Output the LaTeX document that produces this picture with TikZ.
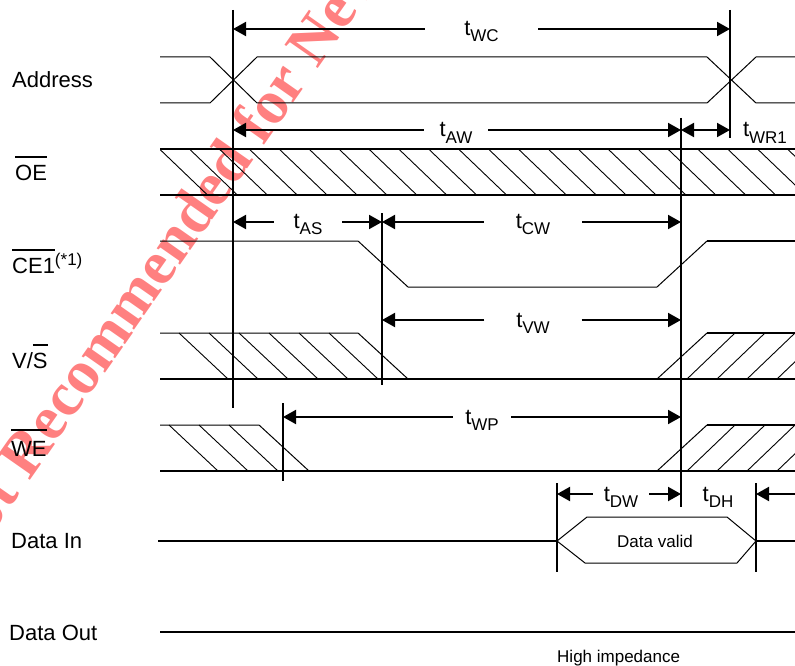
\documentclass[tikz,border=0pt]{standalone}
\usepackage{fontspec}
\setmainfont{Liberation Sans}
\newfontfamily\wmfont{Liberation Serif}
\usetikzlibrary{arrows.meta}
\definecolor{wmred}{RGB}{255,128,128}
\newcommand\ovl[2][7pt]{\vbox{\hrule height 1.6pt\kern#1\hbox{#2}}}
\newcommand\tlab[1]{\rule{0pt}{20pt}\fontsize{22}{24}\selectfont t\raisebox{-6pt}{\fontsize{17}{18}\selectfont #1}}
\begin{document}
\begin{tikzpicture}[x=1pt,y=-1pt,
  thinsig/.style={line width=1pt},
  boldsig/.style={line width=2pt},
  hatchln/.style={line width=0.9pt},
  vline/.style={line width=2pt},
  dimr/.style={line width=2pt,-{Triangle[length=13pt,width=14pt]}},
  gap/.style={inner sep=0pt,minimum height=10pt},
  sig/.style={anchor=base west,inner sep=0pt,font=\fontsize{22}{24}\selectfont},
  small/.style={inner sep=0pt,font=\fontsize{17}{19}\selectfont}]
\useasboundingbox (0,0) rectangle (795,666);
% watermark
\node[rotate=55,anchor=base west,inner sep=0pt,text=wmred,
  font=\wmfont\bfseries\fontsize{62}{62}\selectfont] (wm) at (-35,573)
  {Not Recommended for New Design};
% x-positions of the timing edges
\coordinate (xa) at (233,0);
\coordinate (xb) at (730,0);
\coordinate (xc) at (681,0);
\coordinate (xd) at (382,0);
\coordinate (xe) at (283,0);
\coordinate (xf) at (557,0);
\coordinate (xg) at (756,0);
\coordinate (xr) at (795,0);
% signal names
\node[sig] (nAddr) at (12,88) {Address};
\node[sig] (nOE) at (15,180) {\ovl{OE}};
\node[sig] (nCE) at (12,273) {\ovl{CE1}\raisebox{8pt}{\fontsize{17}{18}\selectfont(*1)}};
\node[sig] (nVS) at (12,368) {V/\ovl{S}};
\node[sig] (nWE) at (11,456) {\ovl[10pt]{WE}};
\node[sig] (nDin) at (11,548) {Data In};
\node[sig] (nDout) at (9,640) {Data Out};
% Address
\draw[thinsig] (160,57) -- (210,57) -- (257,103) -- (707,103) -- (756,57) -- (795,57);
\draw[thinsig] (160,103) -- (210,103) -- (257,57) -- (707,57) -- (756,103) -- (795,103);
% OE
\draw[boldsig] (160,149) -- (795,149);
\draw[boldsig] (160,195) -- (795,195);
\begin{scope}
  \clip (160,149) rectangle (795,195);
  \foreach \i in {0,...,21} \draw[hatchln] ({159.5+29.9*\i},149) -- ++(48,46);
\end{scope}
% CE1
\draw[thinsig] (160,241) -- (358,241) -- (408,287) -- (657,287) -- (707,241);
\draw[boldsig] (707,241) -- (795,241);
% V/S
\draw[thinsig] (160,333) -- (358,333) -- (408,379);
\draw[boldsig] (160,379) -- (795,379);
\draw[thinsig] (657,379) -- (707,333);
\draw[boldsig] (707,333) -- (795,333);
\foreach \x in {179,209,...,329} \draw[hatchln] (\x,333) -- ++(49,46);
\begin{scope}
  \clip (657,333) rectangle (795,379);
  \foreach \x in {687,717,747,777} \draw[hatchln] (\x,379) -- ++(48,-46);
\end{scope}
% WE
\draw[thinsig] (160,425) -- (259,425) -- (309,471);
\draw[boldsig] (160,471) -- (795,471);
\draw[thinsig] (657,471) -- (707,425);
\draw[boldsig] (707,425) -- (795,425);
\foreach \x in {169,199,229} \draw[hatchln] (\x,425) -- ++(49,46);
\begin{scope}
  \clip (657,425) rectangle (795,471);
  \foreach \x in {687,717,747,777} \draw[hatchln] (\x,471) -- ++(48,-46);
\end{scope}
% Data In
\draw[boldsig] (158,541) -- (557,541);
\draw[thinsig] (557,541) -- (587,517) -- (727,517) -- (756,541) -- (737,563) -- (585,563) -- cycle;
\draw[boldsig] (756,541) -- (795,541);
\node[small] (dv) at (655,541) {Data valid};
% Data Out
\draw[boldsig] (160,632) -- (795,632);
\node[small,anchor=base west] (hz) at (557,662) {High impedance};
% timing reference lines
\draw[vline] (233,10) -- (233,408);
\draw[vline] (730,10) -- (730,138);
\draw[vline] (681,118) -- (681,507);
\draw[vline] (382,213) -- (382,385);
\draw[vline] (283,403) -- (283,481);
\draw[vline] (557,483) -- (557,572);
\draw[vline] (756,483) -- (756,572);
% tWC
\node[gap,minimum width=113pt] (lWC) at (481.5,29) {\tlab{WC}};
\draw[dimr] (lWC.west) -- (lWC.west -| xa);
\draw[dimr] (lWC.east) -- (lWC.east -| xb);
% tAW
\node[gap,minimum width=64pt] (lAW) at (456,130) {\tlab{AW}};
\draw[dimr] (lAW.west) -- (lAW.west -| xa);
\draw[dimr] (lAW.east) -- (lAW.east -| xc);
% tWR1
\coordinate (mWR) at (705.5,130);
\draw[dimr] (mWR) -- (mWR -| xc);
\draw[dimr] (mWR) -- (mWR -| xb);
\node[gap] (lWR) at (765,130) {\tlab{WR1}};
% tAS
\node[gap,minimum width=68pt] (lAS) at (308,222) {\tlab{AS}};
\draw[dimr] (lAS.west) -- (lAS.west -| xa);
\draw[dimr] (lAS.east) -- (lAS.east -| xd);
% tCW
\node[gap,minimum width=98pt] (lCW) at (533,222) {\tlab{CW}};
\draw[dimr] (lCW.west) -- (lCW.west -| xd);
\draw[dimr] (lCW.east) -- (lCW.east -| xc);
% tVW
\node[gap,minimum width=97pt] (lVW) at (533,320) {\tlab{VW}};
\draw[dimr] (lVW.west) -- (lVW.west -| xd);
\draw[dimr] (lVW.east) -- (lVW.east -| xc);
% tWP
\node[gap,minimum width=58pt] (lWP) at (482,417) {\tlab{WP}};
\draw[dimr] (lWP.west) -- (lWP.west -| xe);
\draw[dimr] (lWP.east) -- (lWP.east -| xc);
% tDW
\node[gap,minimum width=56pt] (lDW) at (621,494) {\tlab{DW}};
\draw[dimr] (lDW.west) -- (lDW.west -| xf);
\draw[dimr] (lDW.east) -- (lDW.east -| xc);
% tDH
\node[gap] (lDH) at (718,494) {\tlab{DH}};
\coordinate (eDH) at (795,494);
\draw[dimr] (eDH) -- (eDH -| xg);
\end{tikzpicture}
\end{document}
